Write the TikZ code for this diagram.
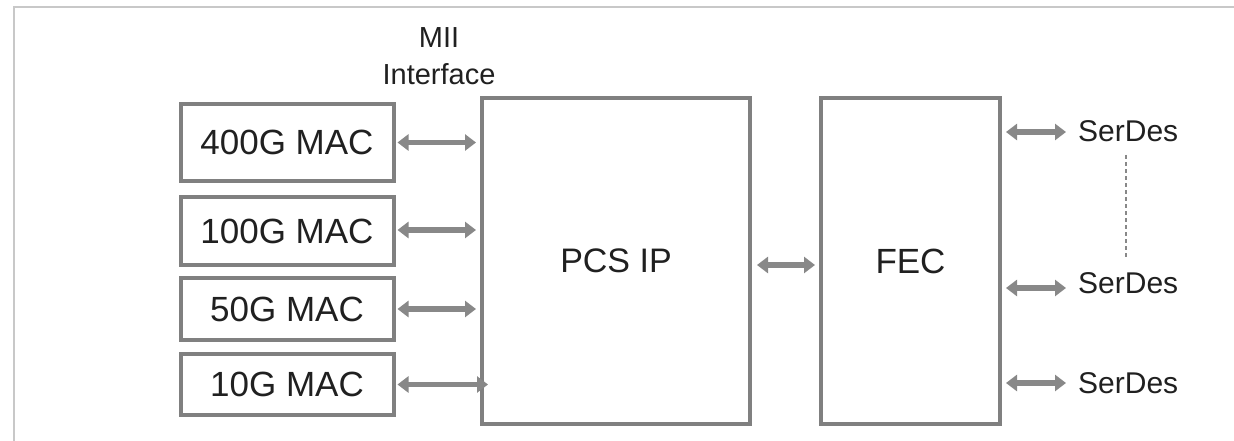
\documentclass[tikz,border=0pt]{standalone}
\usepackage{fontspec}
\setmainfont{Liberation Sans}
\usetikzlibrary{arrows.meta}
\definecolor{boxgray}{HTML}{808080}
\definecolor{arrgray}{HTML}{888888}
\definecolor{framegray}{HTML}{C8C8C8}
\definecolor{txt}{HTML}{202020}
\begin{document}
\begin{tikzpicture}[x=1pt,y=1pt,
  blk/.style={draw=boxgray,line width=4pt,fill=white,rectangle,inner sep=0pt,text=txt},
  mac/.style={blk,minimum width=213pt,font=\fontsize{35}{40}\selectfont},
  lbl/.style={text=txt,inner sep=0pt},
  conn/.style={draw=arrgray,line width=5.5pt,{Triangle[length=11pt,width=16pt]}-{Triangle[length=11pt,width=16pt]}},
  dots/.style={draw=arrgray,line width=2.5pt,dash pattern=on 4pt off 3pt}]
\useasboundingbox (0,0) rectangle (1234,-441);
\fill[white] (0,0) rectangle (1234,-441);
\draw[framegray,line width=2pt] (14,-441) -- (14,-7) -- (1234,-7);

\node[mac,minimum height=77pt] (m400) at (287,-142.5) {400G MAC};
\node[mac,minimum height=68pt] (m100) at (287,-231) {100G MAC};
\node[mac,minimum height=62pt] (m50) at (287,-309) {50G MAC};
\node[mac,minimum height=61pt] (m10) at (287,-384.5) {10G MAC};

\node[blk,minimum width=268pt,minimum height=326pt,font=\fontsize{34}{40}\selectfont] (pcs) at (616,-261) {PCS IP};
\node[blk,minimum width=179pt,minimum height=326pt,font=\fontsize{35}{40}\selectfont] (fec) at (910.5,-261) {FEC};

\node[lbl,font=\fontsize{29}{37}\selectfont,align=center] (mii) at (439,-56) {MII\\Interface};

\node[lbl,anchor=west,font=\fontsize{30}{36}\selectfont] (s1) at (1078,-131) {SerDes};
\node[lbl,anchor=west,font=\fontsize{30}{36}\selectfont] (s2) at (1078,-283) {SerDes};
\node[lbl,anchor=west,font=\fontsize{30}{36}\selectfont] (s3) at (1078,-383) {SerDes};

\coordinate (dtop) at (1126,-155);
\coordinate (dbot) at (1126,-257);
\draw[dots] (dtop) -- (dbot);

\draw[conn,shorten <=2pt,shorten >=4pt] (m400.east) -- (m400.east -| pcs.west);
\draw[conn,shorten <=2pt,shorten >=4pt] ([yshift=1pt]m100.east) -- ([yshift=1pt]m100.east -| pcs.west);
\draw[conn,shorten <=2pt,shorten >=4pt] (m50.east) -- (m50.east -| pcs.west);
\draw[conn,shorten <=2pt,shorten >=-8pt] (m10.east) -- (m10.east -| pcs.west);

\draw[conn,shorten <=5pt,shorten >=4pt] ([yshift=-4pt]pcs.east) -- ([yshift=-4pt]fec.west);

\draw[conn,shorten <=4pt,shorten >=12pt] (fec.east |- 0,-132) -- (s1.west |- 0,-132);
\draw[conn,shorten <=4pt,shorten >=12pt] (fec.east |- 0,-288) -- (s2.west |- 0,-288);
\draw[conn,shorten <=4pt,shorten >=12pt] (fec.east |- 0,-383) -- (s3.west |- 0,-383);
\end{tikzpicture}
\end{document}
